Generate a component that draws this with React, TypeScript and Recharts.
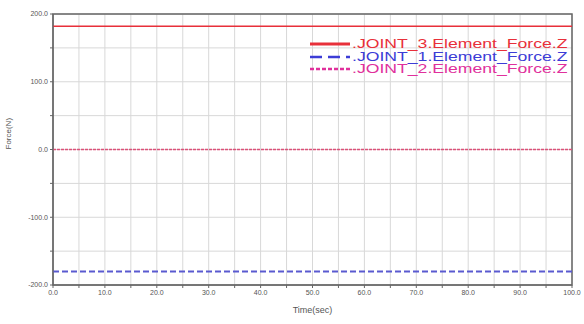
import {
  LineChart,
  Line,
  XAxis,
  YAxis,
  CartesianGrid,
  ReferenceArea,
} from "recharts";

const times = [0, 10, 20, 30, 40, 50, 60, 70, 80, 90, 100];
const joint3 = [182, 182, 182, 182, 182, 182, 182, 182, 182, 182, 182];
const joint1 = [-180, -180, -180, -180, -180, -180, -180, -180, -180, -180, -180];
const joint2 = [0, 0, 0, 0, 0, 0, 0, 0, 0, 0, 0];

const xTicks = [0, 5, 10, 15, 20, 25, 30, 35, 40, 45, 50, 55, 60, 65, 70, 75, 80, 85, 90, 95, 100];
const yTicks = [-200, -150, -100, -50, 0, 50, 100, 150, 200];

const series = [
  { key: "j3", name: ".JOINT_3.Element_Force.Z", color: "#e8303a", line: "#e8303a", dash: undefined, width: 1.5, legendDash: undefined },
  { key: "j1", name: ".JOINT_1.Element_Force.Z", color: "#3c3cd6", line: "#5a5ad0", dash: "6 3", width: 2, legendDash: "12 6" },
  { key: "j2", name: ".JOINT_2.Element_Force.Z", color: "#e0309c", line: "#dc5078", dash: "3 1", width: 1.4, legendDash: "4 2" },
];

const data = times.map((t, i) => ({ t, j3: joint3[i], j1: joint1[i], j2: joint2[i] }));

const font = "Liberation Sans, Arial, sans-serif";

// legend sits inside the plot, top right; the source text is drawn wide
const LegendBox = () => (
  <div style={{ position: "absolute", top: 38, left: 309, fontFamily: font, fontSize: 12.5, lineHeight: "12.5px" }}>
    {series.map((s) => (
      <div key={s.key} style={{ display: "flex", alignItems: "center", color: s.color, height: 12.5 }}>
        <svg width={43} height={12}>
          <line x1={1} y1={6} x2={41} y2={6} stroke={s.color} strokeWidth={s.key === "j3" ? 3 : 2.5} strokeDasharray={s.legendDash} />
        </svg>
        <span style={{ display: "inline-block", transform: "scaleX(1.41)", transformOrigin: "left center", whiteSpace: "nowrap" }}>
          {s.name}
        </span>
      </div>
    ))}
  </div>
);

const fmt = (step: number) => (v: number) => (v % step === 0 ? v.toFixed(1) : "");

export default function App() {
  return (
    <div style={{ position: "absolute", left: 0, top: 0, width: 584, height: 324, background: "#fff" }}>
      <LineChart width={584} height={324} data={data} margin={{ top: 14, right: 12, bottom: 9, left: 0 }}>
        <CartesianGrid stroke="#d8d8d8" strokeWidth={1} />
        <XAxis
          dataKey="t"
          type="number"
          domain={[0, 100]}
          ticks={xTicks}
          tickFormatter={fmt(10)}
          interval={0}
          height={30}
          stroke="#666"
          tickSize={3}
          tick={{ fontSize: 7, fill: "#555", fontFamily: font }}
          label={{ value: "Time(sec)", position: "insideBottom", offset: 2, fontSize: 9, fill: "#555", fontFamily: font }}
        />
        <YAxis
          type="number"
          domain={[-200, 200]}
          ticks={yTicks}
          tickFormatter={fmt(100)}
          interval={0}
          width={53}
          stroke="#666"
          tickSize={3}
          tick={{ fontSize: 7, fill: "#555", fontFamily: font }}
          label={{ value: "Force(N)", angle: -90, position: "insideLeft", offset: 8, fontSize: 8, fill: "#555", fontFamily: font }}
        />
        <ReferenceArea x1={0} x2={100} y1={-200} y2={200} fill="none" stroke="#666" strokeWidth={1.5} />
        {series.map((s) => (
          <Line
            key={s.key}
            dataKey={s.key}
            name={s.name}
            stroke={s.line}
            strokeWidth={s.width}
            strokeDasharray={s.dash}
            dot={false}
            isAnimationActive={false}
          />
        ))}
      </LineChart>
      <LegendBox />
    </div>
  );
}
